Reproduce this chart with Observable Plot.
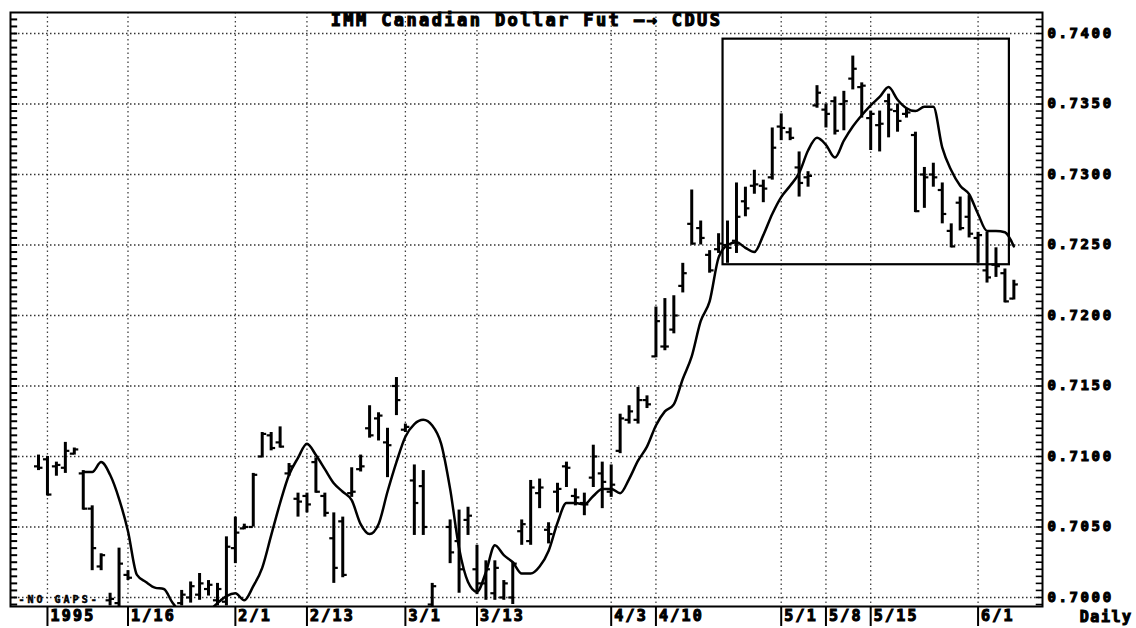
<!DOCTYPE html>
<html><head><meta charset="utf-8">
<script src="https://cdn.jsdelivr.net/npm/d3@7"></script>
<script src="https://cdn.jsdelivr.net/npm/@observablehq/plot@0.6"></script>
<style>
html,body{margin:0;padding:0;background:#fff;}
#chart svg{display:block;}
#chart svg text{font-weight:bold;stroke:#000;stroke-width:1.1px;paint-order:stroke;}
g[aria-label="y-axis tick label"] text{letter-spacing:2.6px;}
</style></head><body><div id="chart"></div>
<script>
// Trading-day index (0 = first trading day of 1995)
const dayIdx = [-1,0,1,2,3,4,5,6,7,8,9,
  15,16,17,18,19,20,21,22,23,24,25,26,27,28,29,30,31,32,33,34,35,36,37,38,39,40,41,42,43,
  45,46,47,48,49,50,51,52,53,54,55,56,57,58,59,60,61,62,63,64,65,66,67,68,69,70,71,72,73,74,75,76,
  77,78,79,80,81,82,83,84,85,86,87,88,89,90,91,92,93,94,95,96,97,98,99,100,101,102,103,104,105,106,107,108];
const high = [0.7101,0.7100,0.7096,0.7110,0.7106,0.7090,0.7065,0.7031,0.7003,0.7035,0.7019,
  0.7005,0.7011,0.7017,0.7012,0.7010,0.7043,0.7057,0.7052,0.7088,0.7117,0.7117,0.7121,0.7095,0.7074,0.7074,0.7099,0.7074,0.7060,0.7057,0.7092,0.7101,0.7136,0.7131,0.7120,0.7156,0.7123,0.7094,0.7090,0.7010,
  0.7055,0.7062,0.7064,0.7037,0.7026,0.7026,0.7012,0.7025,0.7055,0.7083,0.7084,0.7053,0.7081,0.7096,0.7077,0.7074,0.7108,0.7096,0.7094,0.7130,0.7136,0.7149,0.7143,0.7206,0.7212,0.7214,0.7237,0.7289,0.7267,0.7246,0.7258,0.7267,
  0.7294,0.7291,0.7303,0.7296,0.7333,0.7343,0.7333,0.7316,0.7302,0.7363,0.7350,0.7355,0.7359,0.7384,0.7365,0.7345,0.7345,0.7357,0.7350,0.7347,0.7330,0.7305,0.7308,0.7294,0.7265,0.7284,0.7285,0.7259,0.7259,0.7248,0.7233,0.7225];
const low = [0.7090,0.7072,0.7086,0.7088,0.7101,0.7062,0.7019,0.7019,0.6994,0.6993,0.7012,
  0.6994,0.6996,0.6998,0.7001,0.6994,0.6994,0.7024,0.7048,0.7050,0.7099,0.7104,0.7106,0.7086,0.7057,0.7060,0.7074,0.7057,0.7010,0.7014,0.7071,0.7089,0.7113,0.7111,0.7085,0.7129,0.7117,0.7044,0.7044,0.6990,
  0.7024,0.7003,0.7044,0.7002,0.6998,0.6998,0.6998,0.6995,0.7037,0.7037,0.7063,0.7038,0.7060,0.7078,0.7065,0.7058,0.7078,0.7063,0.7071,0.7102,0.7123,0.7123,0.7134,0.7170,0.7175,0.7187,0.7216,0.7250,0.7250,0.7230,0.7244,0.7237,
  0.7244,0.7270,0.7286,0.7280,0.7296,0.7324,0.7324,0.7284,0.7291,0.7347,0.7333,0.7328,0.7331,0.7360,0.7340,0.7317,0.7316,0.7326,0.7330,0.7340,0.7273,0.7276,0.7291,0.7265,0.7248,0.7260,0.7255,0.7237,0.7223,0.7227,0.7209,0.7211];
const open = [0.7093,0.7098,0.7093,0.7092,0.7102,0.7088,0.7063,0.7022,0.6998,0.6996,0.7016,
  0.6996,0.7000,0.7002,0.7006,0.6998,0.6997,0.7035,0.7049,0.7050,0.7100,0.7115,0.7110,0.7088,0.7070,0.7072,0.7096,0.7072,0.7042,0.7054,0.7074,0.7091,0.7120,0.7127,0.7110,0.7150,0.7119,0.7083,0.7079,0.6995,
  0.7050,0.7040,0.7055,0.7020,0.7010,0.7003,0.7000,0.7000,0.7047,0.7040,0.7074,0.7048,0.7075,0.7093,0.7072,0.7067,0.7085,0.7088,0.7075,0.7104,0.7126,0.7126,0.7140,0.7171,0.7178,0.7190,0.7221,0.7265,0.7262,0.7243,0.7247,0.7250,
  0.7253,0.7281,0.7292,0.7292,0.7298,0.7334,0.7330,0.7305,0.7298,0.7349,0.7346,0.7352,0.7350,0.7368,0.7362,0.7340,0.7335,0.7352,0.7345,0.7343,0.7328,0.7300,0.7300,0.7289,0.7260,0.7280,0.7270,0.7255,0.7232,0.7236,0.7230,0.7212];
const close = [0.7092,0.7073,0.7094,0.7104,0.7105,0.7063,0.7035,0.7030,0.6999,0.7024,0.7014,
  0.7002,0.7008,0.7010,0.7009,0.7006,0.7036,0.7046,0.7050,0.7087,0.7116,0.7106,0.7107,0.7093,0.7068,0.7066,0.7075,0.7060,0.7021,0.7016,0.7075,0.7093,0.7115,0.7129,0.7108,0.7140,0.7121,0.7067,0.7050,0.7008,
  0.7032,0.7020,0.7058,0.7010,0.7020,0.7021,0.7010,0.7024,0.7052,0.7078,0.7078,0.7045,0.7077,0.7092,0.7071,0.7066,0.7100,0.7082,0.7080,0.7127,0.7132,0.7140,0.7137,0.7196,0.7178,0.7200,0.7230,0.7251,0.7255,0.7232,0.7251,0.7248,
  0.7270,0.7276,0.7293,0.7290,0.7319,0.7333,0.7326,0.7294,0.7299,0.7358,0.7343,0.7331,0.7352,0.7375,0.7363,0.7343,0.7336,0.7346,0.7338,0.7344,0.7274,0.7298,0.7298,0.7272,0.7249,0.7262,0.7258,0.7257,0.7227,0.7235,0.7210,0.7222];

// Moving average line, starting at trading day 4
const maStart = 4;
const maValues = [0.7089,0.7089,0.7096,0.7087,0.7070,0.7047,0.7016,0.7011,0.7007,0.7006,0.6996,0.6989,0.6985,0.6985,0.6990,0.6996,
  0.7001,0.7003,0.6998,0.7008,0.7021,0.7044,0.7067,0.7087,0.7099,0.7109,0.7101,0.7091,0.7081,0.7075,0.7069,0.7052,0.7045,0.7052,0.7075,0.7096,
  0.7114,0.7123,0.7126,0.7122,0.7109,0.7077,0.7035,0.7011,0.7004,0.7018,0.7037,0.7030,0.7025,0.7017,0.7017,0.7022,0.7033,0.7053,0.7067,0.7067,
  0.7066,0.7072,0.7077,0.7077,0.7074,0.7084,0.7097,0.7107,0.7122,0.7132,0.7137,0.7155,0.7171,0.7196,0.7210,0.7241,0.7250,0.7252,0.7248,0.7245,
  0.7257,0.7272,0.7284,0.7292,0.7301,0.7317,0.7326,0.7321,0.7312,0.7324,0.7334,0.7342,0.7349,0.7355,0.7362,0.7353,0.7347,0.7345,0.7348,0.7348,
  0.7319,0.7303,0.7292,0.7286,0.7272,0.7260,0.7260,0.7259,0.7249];

// Date axis
const tickIdx = [0,9,21,29,40,48,63,68,82,87,92,104];
const tickLabels = ["1995","1/16","2/1","2/13","3/1","3/13","4/3","4/10","5/1","5/8","5/15","6/1"];
// Price axis
const yTicks = [0.7000,0.7050,0.7100,0.7150,0.7200,0.7250,0.7300,0.7350,0.7400];
// Highlight box (trading-day range, price range)
const boxDays = [75.5, 107.5];
const boxPrices = [0.7236, 0.7396];

const titleText = "IMM Canadian Dollar Fut —→ CDUS";

const bars = dayIdx.map((i, k) => ({i, hi: high[k], lo: low[k], op: open[k], cl: close[k]}));
const ma = maValues.map((v, k) => ({i: k + maStart, v}));
const labelMap = new Map(tickIdx.map((d, k) => [d, tickLabels[k]]));
const box = [{x1: boxDays[0], x2: boxDays[1], y1: boxPrices[0], y2: boxPrices[1]}];

const xDomain = [-4.13, 111.2];
const yDomain = [0.69936, 0.74149];
const minorTicks = d3.range(0, 85).map(k => 0.6995 + k * 0.0005).filter(v => v <= yDomain[1]);
const font = "'DejaVu Sans Mono', monospace";

const chart = Plot.plot({
  width: 1136, height: 628,
  marginTop: 12, marginRight: 94, marginBottom: 22, marginLeft: 10,
  style: {fontFamily: font, background: "#fff", color: "#000", overflow: "visible"},
  x: {domain: xDomain, axis: null},
  y: {domain: yDomain, axis: null},
  marks: [
    Plot.gridY(yTicks, {stroke: "#000", strokeOpacity: 0.8, strokeDasharray: "1.5,2.5", strokeWidth: 1.3}),
    Plot.gridX(tickIdx, {stroke: "#000", strokeOpacity: 0.75, strokeDasharray: "1.5,3", strokeWidth: 1.3}),
    Plot.rect(box, {x1: "x1", x2: "x2", y1: "y1", y2: "y2", fill: "none", stroke: "#000", strokeWidth: 2.2}),
    Plot.ruleX(bars, {x: "i", y1: "lo", y2: "hi", stroke: "#000", strokeWidth: 3, clip: true}),
    Plot.ruleY(bars, {y: "op", x1: d => d.i - 0.45, x2: "i", stroke: "#000", strokeWidth: 2.2, clip: true}),
    Plot.ruleY(bars, {y: "cl", x1: "i", x2: d => d.i + 0.5, stroke: "#000", strokeWidth: 2.2, clip: true}),
    Plot.line(ma, {x: "i", y: "v", stroke: "#000", strokeWidth: 2.5, curve: "monotone-x", clip: true}),
    Plot.ruleY(minorTicks, {y: d => d, x1: xDomain[0], x2: xDomain[0] + 0.8, stroke: "#000", strokeWidth: 2}),
    Plot.ruleY(minorTicks, {y: d => d, x1: xDomain[1] - 0.7, x2: xDomain[1], stroke: "#000", strokeWidth: 1.6}),
    Plot.frame({stroke: "#000", strokeWidth: 2}),
    Plot.axisY(yTicks, {anchor: "right", tickSize: 0, tickPadding: 5, tickFormat: d3.format(".4f"),
      fontSize: 14, fontWeight: "bold", fontFamily: font}),
    Plot.axisX(tickIdx, {anchor: "bottom", tickSize: 20, tickFormat: () => "", stroke: "#000", strokeWidth: 2}),
    Plot.text(tickIdx, {x: d => d, text: d => labelMap.get(d), frameAnchor: "bottom", lineAnchor: "middle", dy: 10, dx: 3,
      textAnchor: "start", fontSize: 15, fontWeight: "bold", fontFamily: font}),
    Plot.text([titleText], {text: d => d, frameAnchor: "top", lineAnchor: "middle", dy: 8, fontSize: 17, fontWeight: "bold", fontFamily: font}),
    Plot.text(["Daily"], {text: d => d, frameAnchor: "bottom-right", lineAnchor: "middle", dx: 90, dy: 11, textAnchor: "end",
      fontSize: 15, fontWeight: "bold", fontFamily: font}),
    Plot.text(["-NO GAPS-"], {text: d => d, frameAnchor: "bottom-left", lineAnchor: "middle", dx: 8, dy: -7, textAnchor: "start",
      fontSize: 10, fontWeight: "bold", fontFamily: font})
  ]
});
document.getElementById("chart").appendChild(chart);
d3.select(chart).selectAll("text").each(function() {
  const t = this.textContent;
  if (t === titleText) this.style.letterSpacing = "2.4px";
  else if (tickLabels.includes(t)) this.style.letterSpacing = "2.2px";
  else if (t === "-NO GAPS-") { this.style.letterSpacing = "3px"; this.style.strokeWidth = "0.5px"; }
  else if (t === "Daily") this.style.letterSpacing = "1.5px";
});
</script></body></html>
